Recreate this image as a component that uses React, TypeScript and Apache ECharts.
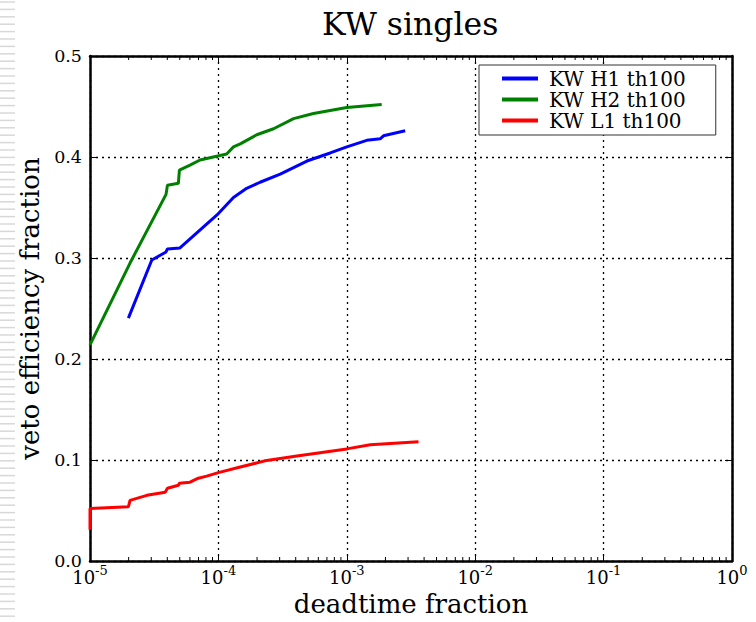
import React, { useEffect, useRef } from "react";
import * as echarts from "echarts";

const TITLE = "KW singles";
const X_NAME = "deadtime fraction";
const Y_NAME = "veto efficiency fraction";
const SERIES_NAMES = ["KW H1 th100", "KW H2 th100", "KW L1 th100"];
const COLORS = ["#0000ff", "#008000", "#ff0000"];

const h1X = [1.99e-5, 3.03e-5, 3.91e-5, 4.01e-5, 5.02e-5, 1.0e-4, 1.31e-4, 1.66e-4, 2.11e-4, 3.03e-4, 4.89e-4, 7.43e-4, 1.0e-3, 1.43e-3, 1.82e-3, 1.93e-3, 2.85e-3];
const h1Y = [0.2405, 0.298, 0.306, 0.309, 0.31, 0.344, 0.36, 0.369, 0.375, 0.383, 0.396, 0.404, 0.41, 0.4165, 0.418, 0.421, 0.426];

const h2X = [1.0e-5, 2.05e-5, 3.91e-5, 4.01e-5, 4.88e-5, 4.97e-5, 6.01e-5, 7.19e-5, 1.16e-4, 1.31e-4, 1.48e-4, 1.99e-4, 2.69e-4, 3.85e-4, 5.5e-4, 1.0e-3, 1.87e-3];
const h2Y = [0.214, 0.295, 0.363, 0.372, 0.374, 0.387, 0.392, 0.397, 0.403, 0.41, 0.413, 0.422, 0.428, 0.438, 0.443, 0.449, 0.452];

const l1X = [1.0e-5, 1.0e-5, 1.99e-5, 2.05e-5, 2.77e-5, 3.85e-5, 4.01e-5, 4.88e-5, 4.97e-5, 6.01e-5, 6.98e-5, 8.11e-5, 1.0e-4, 1.48e-4, 2.38e-4, 4.08e-4, 1.0e-3, 1.52e-3, 3.62e-3];
const l1Y = [0.031, 0.052, 0.0537, 0.06, 0.065, 0.068, 0.072, 0.075, 0.077, 0.078, 0.082, 0.084, 0.0875, 0.093, 0.0996, 0.104, 0.111, 0.115, 0.118];

const X_MIN = 1e-5;
const X_MAX = 1;
const Y_MIN = 0;
const Y_MAX = 0.5;
const Y_STEP = 0.1;

const FONT = "DejaVu Serif";

function minorTickValues(): number[][] {
  const out: number[][] = [];
  for (let e = -5; e < 0; e++) {
    for (let k = 2; k <= 9; k++) out.push([k * Math.pow(10, e), 0]);
  }
  return out;
}

function pairs(xs: number[], ys: number[]) {
  return xs.map((x, i) => [x, ys[i]]);
}

export default function App() {
  const ref = useRef<HTMLDivElement>(null);
  useEffect(() => {
    document.body.style.margin = "0";
    if (!ref.current) return;
    const chart = echarts.init(ref.current, undefined, { renderer: "svg" });

    const stripes: any[] = [];
    for (let y = 2; y < 622; y += 7.4) {
      stripes.push({
        type: "line",
        shape: { x1: 0, y1: y, x2: 15, y2: y },
        style: { stroke: "#d8d8d8", lineWidth: 1.5 },
        silent: true,
      });
    }

    const commonX = {
      type: "log" as const,
      logBase: 10,
      min: X_MIN,
      max: X_MAX,
      axisLine: { show: true, onZero: false, lineStyle: { color: "#000", width: 2.5 } },
      axisTick: { show: true, inside: true, length: 7, lineStyle: { color: "#000", width: 1 } },
    };
    const commonY = {
      type: "value" as const,
      min: Y_MIN,
      max: Y_MAX,
      interval: Y_STEP,
      axisLine: { show: true, onZero: false, lineStyle: { color: "#000", width: 2.5 } },
      axisTick: { show: true, inside: true, length: 7, lineStyle: { color: "#000", width: 1 } },
    };
    const splitLine = {
      show: true,
      lineStyle: { color: "#000", width: 1.3, type: [2, 4] as any },
    };

    const lineSeries = [pairs(h1X, h1Y), pairs(h2X, h2Y), pairs(l1X, l1Y)].map((d, i) => ({
      name: SERIES_NAMES[i],
      type: "line" as const,
      data: d,
      showSymbol: false,
      symbol: "none",
      color: COLORS[i],
      lineStyle: { color: COLORS[i], width: 3 },
      z: 3,
    }));

    chart.setOption({
      animation: false,
      backgroundColor: "#fff",
      title: {
        text: TITLE,
        left: 317,
        top: 3,
        textStyle: { fontFamily: FONT, fontSize: 31.5, fontWeight: "normal", color: "#000" },
      },
      graphic: [{ type: "group", children: stripes }],
      legend: {
        data: SERIES_NAMES,
        orient: "vertical",
        left: 479,
        top: 65,
        padding: [3, 30, 4, 23],
        itemGap: 0,
        itemWidth: 36,
        itemHeight: 4,
        icon: "rect",
        backgroundColor: "#fff",
        borderColor: "#333",
        borderWidth: 1,
        z: 10,
        textStyle: { fontFamily: FONT, fontSize: 20, lineHeight: 21, color: "#000", padding: [0, 0, 0, 6] },
      },
      grid: { left: 90, right: 24, top: 56, bottom: 56, containLabel: false },
      xAxis: [
        {
          ...commonX,
          position: "bottom",
          name: X_NAME,
          nameLocation: "middle",
          nameGap: 30,
          nameTextStyle: { fontFamily: FONT, fontSize: 26, color: "#000" },
          splitLine,
          axisLabel: {
            margin: 3,
            color: "#000",
            formatter: (v: number) => `{b|10}{s|${Math.round(Math.log10(v))}}`,
            rich: {
              b: { fontFamily: FONT, fontSize: 18, lineHeight: 22, color: "#000", verticalAlign: "bottom" },
              s: { fontFamily: FONT, fontSize: 13, lineHeight: 10, color: "#000", verticalAlign: "top" },
            },
          },
        },
        {
          ...commonX,
          position: "top",
          axisLabel: { show: false },
          splitLine: { show: false },
        },
      ],
      yAxis: [
        {
          ...commonY,
          position: "left",
          name: Y_NAME,
          nameLocation: "middle",
          nameRotate: 90,
          nameGap: 42,
          nameTextStyle: { fontFamily: FONT, fontSize: 26, color: "#000" },
          splitLine,
          axisLabel: {
            margin: 8,
            color: "#000",
            fontFamily: FONT,
            fontSize: 17.5,
            formatter: (v: number) => v.toFixed(1),
          },
        },
        {
          ...commonY,
          position: "right",
          axisLabel: { show: false },
          splitLine: { show: false },
        },
      ],
      series: [
        ...lineSeries,
        {
          type: "custom",
          name: "minorTicks",
          xAxisIndex: 0,
          yAxisIndex: 0,
          data: minorTickValues(),
          silent: true,
          z: 5,
          renderItem: (params: any, api: any) => {
            const x = api.value(0);
            const pb = api.coord([x, Y_MIN]);
            const pt = api.coord([x, Y_MAX]);
            return {
              type: "group",
              children: [
                { type: "line", shape: { x1: pb[0], y1: pb[1], x2: pb[0], y2: pb[1] - 4 }, style: { stroke: "#000", lineWidth: 1 } },
                { type: "line", shape: { x1: pt[0], y1: pt[1], x2: pt[0], y2: pt[1] + 4 }, style: { stroke: "#000", lineWidth: 1 } },
              ],
            };
          },
        },
      ],
    });
    return () => chart.dispose();
  }, []);
  return <div ref={ref} style={{ width: 756, height: 622 }} />;
}
